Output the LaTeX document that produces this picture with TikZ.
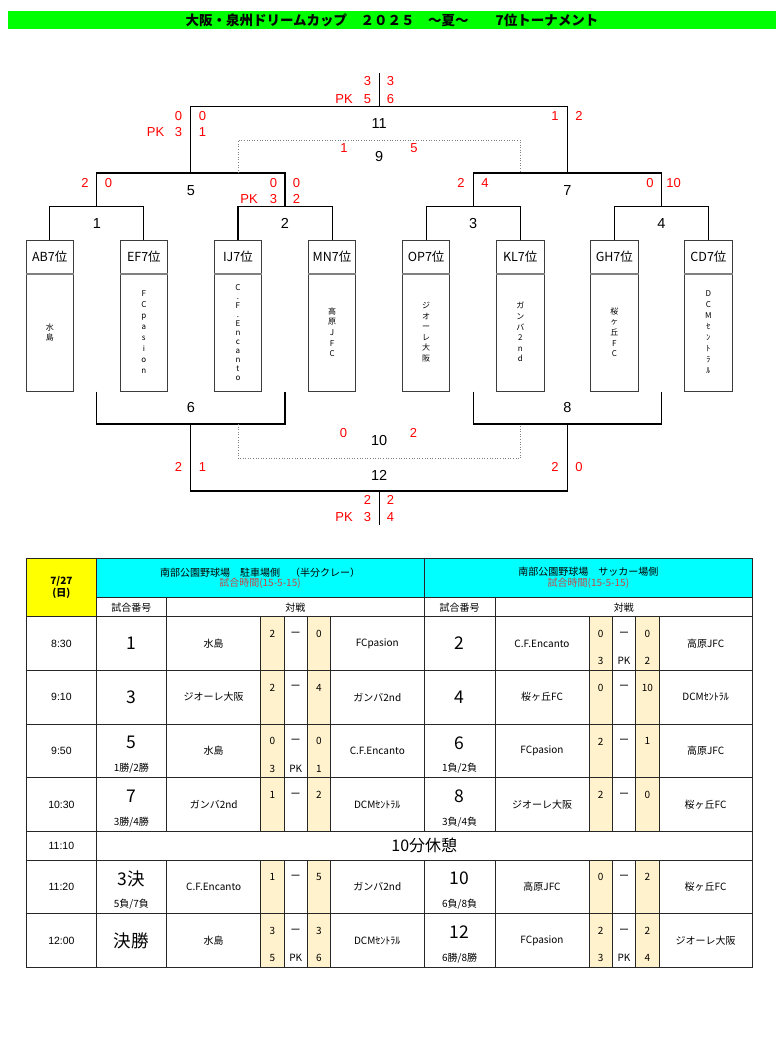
\documentclass[tikz,border=0pt]{standalone}
\usepackage{fontspec}
\setmainfont{Noto Sans CJK JP}
\newfontfamily\lat{Liberation Sans}

\definecolor{titlegreen}{RGB}{0,255,0}
\definecolor{dateyellow}{RGB}{255,255,0}
\definecolor{headcyan}{RGB}{0,255,255}
\definecolor{scorebg}{RGB}{255,242,204}
\definecolor{timered}{RGB}{200,70,70}
\definecolor{boxgray}{RGB}{60,60,60}

\tikzset{
  bline/.style={line width=1.1pt},
  dline/.style={dotted, line width=0.6pt, gray},
  res/.style={text=red, inner sep=0pt, font=\lat\fontsize{13}{13}\selectfont},
  mno/.style={inner sep=0pt, font=\lat\fontsize{14.5}{14.5}\selectfont},
  seed/.style={draw=boxgray, line width=1pt, minimum width=47.5pt,
    minimum height=33.3pt, inner sep=0pt, font=\fontsize{12.5}{12.5}\selectfont},
  namebox/.style={draw=boxgray, line width=1pt, minimum width=47.5pt,
    minimum height=117.7pt, inner sep=0pt, align=center},
  grid/.style={line width=0.8pt, black!85},
  cell/.style={inner sep=0pt, font=\fontsize{10}{10}\selectfont},
  clock/.style={inner sep=0pt, font=\lat\fontsize{10.5}{10.5}\selectfont},
  bignr/.style={inner sep=0pt, font=\fontsize{17.5}{17.5}\selectfont},
}

\begin{document}
\begin{tikzpicture}[x=1pt, y=-1pt]
  \useasboundingbox (0,0) rectangle (781,1047);

  % title
  \fill[titlegreen] (8,11) rectangle (776,29);
  \node[inner sep=0pt, font=\bfseries\fontsize{13.5}{13.5}\selectfont] (ttl) at (392,20)
    {大阪・泉州ドリームカップ　２０２５　～夏～　　7位トーナメント};

  % seeds
  \foreach \code/\name/\sk [count=\i] in {AB/{水\\島}/10, EF/{F\\C\\p\\a\\s\\i\\o\\n}/10.9,
      IJ/{C\\.\\F\\.\\E\\n\\c\\a\\n\\t\\o}/9, MN/{高\\原\\J\\F\\C}/10.7,
      OP/{ジ\\オ\\ー\\レ\\大\\阪}/10.6, KL/{ガ\\ン\\バ\\2\\n\\d}/10.6,
      GH/{桜\\ヶ\\丘\\F\\C}/10.7, CD/{D\\C\\M\\ｾ\\ﾝ\\ﾄ\\ﾗ\\ﾙ}/10.9}
  {
    \pgfmathsetmacro\x{49.75+94.1*(\i-1)}
    \node[namebox, font={\fontsize{8}{\sk}\selectfont}] (b\i) at (\x,332.15) {\name};
    \node[seed] (h\i) at (\x,256.65) {\code7位};
    \draw[line width=1.6pt, gray] (h\i.south west) -- (h\i.south east);
  }

  % bracket points
  \coordinate (m1) at (96.8,206.7);
  \coordinate (m2) at (285,206.7);
  \coordinate (m3) at (473.2,206.7);
  \coordinate (m4) at (661.4,206.7);
  \coordinate (m5) at (190.9,173);
  \coordinate (m7) at (567.3,173);
  \coordinate (m9) at (379.1,140);
  \coordinate (m11) at (379.1,106.7);
  \coordinate (top) at (379.1,73);
  \coordinate (m6) at (190.9,424);
  \coordinate (m8) at (567.3,424);
  \coordinate (m10) at (379.1,458.3);
  \coordinate (m12) at (379.1,491);
  \coordinate (bot) at (379.1,525);

  \draw[bline] (h1.north) |- (m1) -| (h2.north);
  \draw[bline] (h3.north) |- (m2) -| (h4.north);
  \draw[bline] (h5.north) |- (m3) -| (h6.north);
  \draw[bline] (h7.north) |- (m4) -| (h8.north);
  \draw[bline] (m1) |- (m5) -| (m2);
  \draw[bline] (m3) |- (m7) -| (m4);
  \draw[bline] (m5) |- (m11) -| (m7);
  \draw[bline] (m11) -- (top);
  \draw[dline] (h3.north |- m5) |- (m9) -| (h6.north |- m7);

  \draw[bline] (m1 |- b1.south) |- (m6) -| (m2 |- b1.south);
  \draw[bline] (m3 |- b1.south) |- (m8) -| (m4 |- b1.south);
  \draw[bline] (m6) |- (m12) -| (m8);
  \draw[bline] (m12) -- (bot);
  \draw[dline] (h3.north |- m6) |- (m10) -| (h6.north |- m8);

  % match numbers
  \foreach \x/\y/\t [count=\i] in {96.8/223.3/1, 285/223.3/2, 473.2/223.3/3,
      661.4/223.3/4, 190.9/190.7/5, 567.3/190.7/7, 379.1/123.3/11,
      379.1/156.7/9, 190.9/407.7/6, 567.3/407.7/8, 379.1/440.7/10, 379.1/475/12}
    \node[mno] (g\i) at (\x,\y) {\t};

  % results
  \foreach \x/\y/\t [count=\i] in {367.5/81/3, 390.5/81/3, 344/98.7/PK, 367.5/98.7/5,
      390.5/98.7/6, 178.5/115.7/0, 202.5/115.7/0, 155.5/132.3/PK, 178.5/132.3/3,
      202.5/132.3/1, 555/115.7/1, 579/115.7/2, 344/148.3/1, 414/148.3/5,
      85/182.7/2, 108.5/182.7/0, 273.5/182.7/0, 296.5/182.7/0, 249/199.3/PK,
      273.5/199.3/3, 296.5/199.3/2, 461/182.7/2, 485/182.7/4, 650/182.7/0,
      673.5/182.7/10, 343.5/432.7/0, 413.5/432.7/2, 178.5/466.7/2, 202.5/466.7/1,
      555/466.7/2, 579/466.7/0, 367.5/500/2, 390.5/500/2, 344/516.7/PK,
      367.5/516.7/3, 390.5/516.7/4}
    \node[res] (r\i) at (\x,\y) {\t};

  % table
  \fill[dateyellow] (26.7,558.3) rectangle (96,616.7);
  \fill[headcyan] (96,558.3) rectangle (752.7,597.3);
  \foreach \a in {260.7,307.3,589,635.7} {
    \fill[scorebg] (\a,616.7) rectangle ++(23.3,214.8);
    \fill[scorebg] (\a,860) rectangle ++(23.3,107.4);
  }
  \draw[grid] (26.7,558.3) rectangle (752.7,967.4);
  \draw[grid] (96,558.3) -- (96,967.4);
  \draw[grid] (96,597.3) -- (752.7,597.3);
  \foreach \y in {616.7,670.4,724.1,777.8,831.5,860,913.7}
    \draw[grid] (26.7,\y) -- (752.7,\y);
  \draw[grid] (424,558.3) -- (424,831.5) (424,860) -- (424,967.4);
  \foreach \x in {166.7,495}
    \draw[grid] (\x,597.3) -- (\x,831.5) (\x,860) -- (\x,967.4);
  \foreach \x in {260.7,284,307.3,330.7,589,612.3,635.7,659}
    \draw[grid] (\x,616.7) -- (\x,831.5) (\x,860) -- (\x,967.4);

  \node[cell, font=\bfseries\fontsize{10}{10}\selectfont] (day) at (61.4,581.7) {7/27};
  \node[cell, font=\bfseries\fontsize{10}{10}\selectfont] (wday) at (61.4,593.3) {(日)};
  \node[cell] (f1) at (260,572.2) {南部公園野球場　駐車場側　（半分クレー）};
  \node[cell, text=timered] (f1t) at (260,583.6) {試合時間(15-5-15)};
  \node[cell] (f2) at (588.4,572.2) {南部公園野球場　サッカー場側};
  \node[cell, text=timered] (f2t) at (588.4,583.6) {試合時間(15-5-15)};
  \node[cell] (k1) at (131.4,607.4) {試合番号};
  \node[cell] (v1) at (295.4,607.4) {対戦};
  \node[cell] (k2) at (459.5,607.4) {試合番号};
  \node[cell] (v2) at (623.9,607.4) {対戦};

  \foreach \t/\y [count=\i] in {8:30/643.5, 9:10/697.2, 9:50/750.9, 10:30/804.6,
      11:10/845.7, 11:20/886.8, 12:00/940.5}
    \node[clock] (time\i) at (61.4,\y) {\t};
  \node[inner sep=0pt, font=\fontsize{16}{16}\selectfont] (rest) at (424.3,845.7) {10分休憩};

  \foreach \dx/\ry/\nr/\lo/\tma/\sca/\pka/\pk/\scb/\pkb/\tmb [count=\i] in {
      0/616.7/1//水島/2///0//FCpasion,
      328.3/616.7/2//C.F.Encanto/0/3/PK/0/2/高原JFC,
      0/670.4/3//ジオーレ大阪/2///4//ガンバ2nd,
      328.3/670.4/4//桜ヶ丘FC/0///10//DCMｾﾝﾄﾗﾙ,
      0/724.1/5/{1勝/2勝}/水島/0/3/PK/0/1/C.F.Encanto,
      328.3/724.1/6/{1負/2負}/FCpasion/2///1//高原JFC,
      0/777.8/7/{3勝/4勝}/ガンバ2nd/1///2//DCMｾﾝﾄﾗﾙ,
      328.3/777.8/8/{3負/4負}/ジオーレ大阪/2///0//桜ヶ丘FC,
      0/860/3決/{5負/7負}/C.F.Encanto/1///5//ガンバ2nd,
      328.3/860/10/{6負/8負}/高原JFC/0///2//桜ヶ丘FC,
      0/913.7/決勝//水島/3/5/PK/3/6/DCMｾﾝﾄﾗﾙ,
      328.3/913.7/12/{6勝/8勝}/FCpasion/2/3/PK/2/4/ジオーレ大阪}
  {
    \pgfmathsetmacro\yc{\ry+26.8}
    \pgfmathsetmacro\yt{\ry+17.3}
    \pgfmathsetmacro\yb{\ry+44.4}
    \ifx\lo\empty
      \node[bignr] (nr\i) at (131.4+\dx,\yc) {\nr};
    \else
      \pgfmathsetmacro\yn{\ry+18.7}
      \node[bignr] (nr\i) at (131.4+\dx,\yn) {\nr};
      \node[cell] (lo\i) at (131.4+\dx,\yb) {\lo};
    \fi
    \node[cell] (ta\i) at (213.7+\dx,\yc) {\tma};
    \node[cell] (sa\i) at (272.3+\dx,\yt) {\sca};
    \node[cell] (pa\i) at (272.3+\dx,\yb) {\pka};
    \node[cell] (dash\i) at (295.7+\dx,\yt) {ー};
    \node[cell] (pk\i) at (295.7+\dx,\yb) {\pk};
    \node[cell] (sb\i) at (319+\dx,\yt) {\scb};
    \node[cell] (pb\i) at (319+\dx,\yb) {\pkb};
    \node[cell] (tb\i) at (377.3+\dx,\yc) {\tmb};
  }
\end{tikzpicture}
\end{document}
